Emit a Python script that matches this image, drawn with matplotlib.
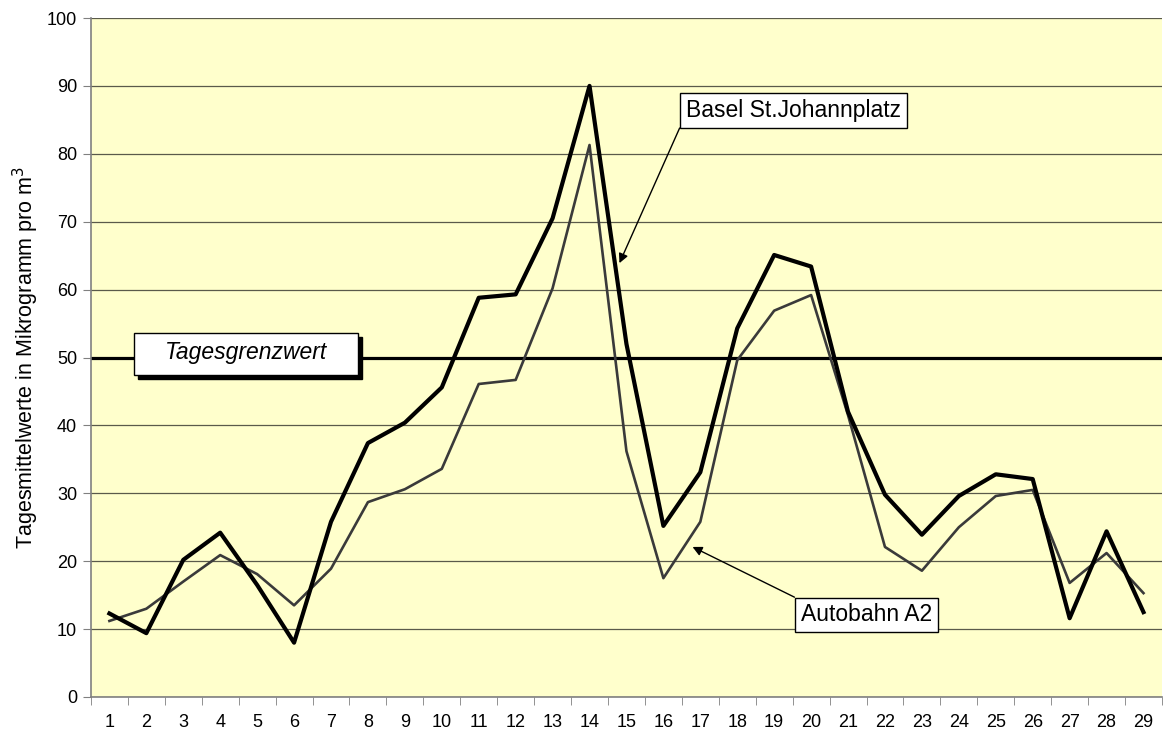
import matplotlib
matplotlib.use("Agg")
import matplotlib.pyplot as plt
from matplotlib.patches import Rectangle

plt.rcParams['font.family'] = ['Liberation Sans', 'DejaVu Sans']

# Tage 1..29
tage = list(range(1, 30))

# Tagesmittelwerte Basel St.Johannplatz
basel = [12.3, 9.4, 20.2, 24.2, 16.5, 8.0, 25.8, 37.4, 40.4, 45.6,
         58.8, 59.3, 70.5, 90.0, 52.0, 25.2, 33.1, 54.3, 65.1, 63.4,
         42.0, 29.8, 23.9, 29.6, 32.8, 32.1, 11.6, 24.4, 12.5]

# Tagesmittelwerte Autobahn A2
autobahn = [11.2, 13.0, 17.0, 20.9, 18.1, 13.5, 18.9, 28.7, 30.6, 33.6,
            46.1, 46.7, 60.2, 81.3, 36.2, 17.5, 25.8, 49.6, 56.9, 59.2,
            41.5, 22.1, 18.6, 25.0, 29.6, 30.5, 16.8, 21.2, 15.3]

grenzwert = 50

fig = plt.figure(figsize=(11.63, 7.36), dpi=100)
ax = fig.add_axes([0.0782, 0.053, 0.9209, 0.9225])
ax.set_facecolor('#FFFFCC')

ax.set_xlim(0.5, 29.5)
ax.set_ylim(0, 100)

# gitter
ax.set_yticks(range(0, 101, 10))
ax.yaxis.grid(True, color='#5a5a4a', lw=0.9)
ax.set_axisbelow(True)

# x-achse: ticks zwischen den kategorien
ax.set_xticks(tage)
ax.set_xticks([t + 0.5 for t in [0] + tage], minor=True)
ax.tick_params(axis='x', which='major', length=0, pad=12, labelsize=13)
ax.tick_params(axis='x', which='minor', length=6, color='#808080', direction='out')
ax.tick_params(axis='y', length=6, color='#808080', labelsize=13, pad=4)

for s in ['top', 'right']:
    ax.spines[s].set_visible(False)
for s in ['left', 'bottom']:
    ax.spines[s].set_color('#808080')
    ax.spines[s].set_linewidth(1.2)

# grenzwert linie
ax.axhline(grenzwert, color='black', lw=2.3, zorder=2)

ax.plot(tage, autobahn, color='#3a3a3a', lw=1.9, zorder=3)
ax.plot(tage, basel, color='black', lw=3.0, zorder=4)

ax.set_ylabel('Tagesmittelwerte in Mikrogramm pro m$^3$', fontsize=15.5, labelpad=4)

# Tagesgrenzwert box mit schatten
box_x0, box_x1 = 1.667, 7.72
box_y0, box_y1 = 47.4, 53.6
ax.add_patch(Rectangle((box_x0 + 0.11, box_y0 - 0.6), box_x1 - box_x0, box_y1 - box_y0,
                       facecolor='black', edgecolor='black', zorder=5))
ax.add_patch(Rectangle((box_x0, box_y0), box_x1 - box_x0, box_y1 - box_y0,
                       facecolor='white', edgecolor='black', lw=1, zorder=6))
ax.text((box_x0 + box_x1) / 2, (box_y0 + box_y1) / 2 + 0.2, 'Tagesgrenzwert',
        ha='center', va='center', fontsize=16.5, style='italic', zorder=7)

# beschriftungen mit pfeil
def label(text, tail, tip, unten=False):
    ax.annotate('', xy=tip, xytext=tail,
                arrowprops=dict(arrowstyle='-|>', color='black', lw=1,
                                mutation_scale=14, shrinkA=0, shrinkB=0),
                zorder=8)
    dy = -4.5 if unten else 4.5
    ax.annotate(text, xy=tail, xytext=(4.5, dy), textcoords='offset points',
                ha='left', va='top' if unten else 'bottom', fontsize=16.5, zorder=9,
                bbox=dict(boxstyle='square,pad=0.25', facecolor='white',
                          edgecolor='black', lw=1))

label('Basel St.Johannplatz', (16.44, 83.8), (14.81, 63.9))
label('Autobahn A2', (19.55, 14.7), (16.79, 22.1), unten=True)

fig.savefig('out.png', dpi=100)
